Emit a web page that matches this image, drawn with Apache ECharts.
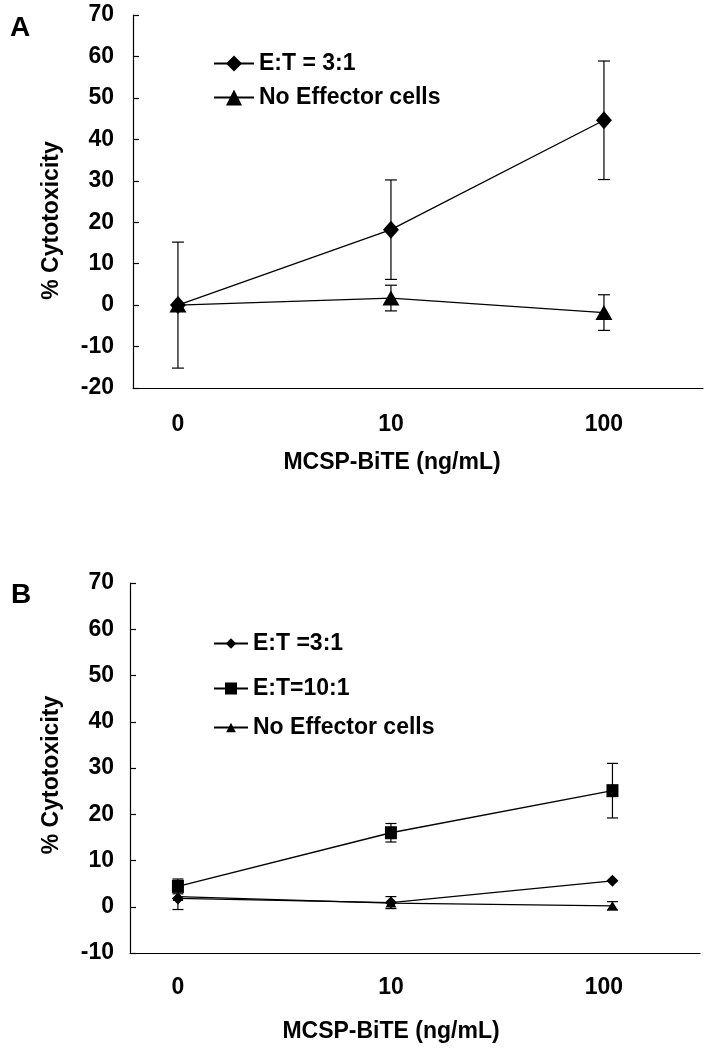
<!DOCTYPE html>
<html>
<head>
<meta charset="utf-8">
<script src="https://cdn.jsdelivr.net/npm/echarts@6/dist/echarts.min.js"></script>
<style>
    body { margin: 0; background: #fff; }
    #chart { width: 706px; height: 1050px; }
</style>
</head>
<body>
<div id="chart"></div>
<script>
// dose labels on x, and where the points sit along it
var doseLabels = ['0', '10', '100'];
var doseA = [0, 1, 2];
var doseB = [0, 1, 2.04];

// panel A
var namesA = ['E:T = 3:1', 'No Effector cells'];
var a31 = [0, 18.2, 44.6];
var a31Err = [15.2, 12.0, 14.3];
var aNone = [0, 1.7, -1.8];
var aNoneErr = [0, 3.1, 4.3];

// panel B
var namesB = ['E:T =3:1', 'E:T=10:1', 'No Effector cells'];
var b31 = [1.8, 0.9, 5.6];
var b31Err = [2.4, 1.3, 0];
var b101 = [4.4, 16.0, 25.1];
var b101Err = [1.6, 2.0, 5.9];
var bNone = [2.2, 0.8, 0.2];
var bNoneErr = [0, 0, 0.9];

var font = {fontFamily: 'Liberation Sans', fontWeight: 'bold', color: '#000', fontSize: 23, lineHeight: 23};

function pairs(xs, ys) {
    var out = [];
    for (var i = 0; i < ys.length; i++) out.push([xs[i], ys[i]]);
    return out;
}

function errRows(xs, ys, es) {
    var out = [];
    for (var i = 0; i < ys.length; i++) {
        if (es[i] > 0) out.push([xs[i], ys[i] - es[i], ys[i] + es[i]]);
    }
    return out;
}

function errorBar(cap) {
    return function (params, api) {
        var hi = api.coord([api.value(0), api.value(2)]);
        var lo = api.coord([api.value(0), api.value(1)]);
        var st = {stroke: '#000', lineWidth: 1.2};
        return {
            type: 'group',
            children: [
                {type: 'line', shape: {x1: hi[0], y1: hi[1], x2: lo[0], y2: lo[1]}, style: st},
                {type: 'line', shape: {x1: hi[0] - cap / 2, y1: hi[1], x2: hi[0] + cap / 2, y2: hi[1]}, style: st},
                {type: 'line', shape: {x1: lo[0] - cap / 2, y1: lo[1], x2: lo[0] + cap / 2, y2: lo[1]}, style: st}
            ]
        };
    };
}

function xAxisOf(grid, min, max, margin, gap, shift) {
    return {
        type: 'value', gridIndex: grid, min: min, max: max,
        name: 'MCSP-BiTE (ng/mL)', nameLocation: 'middle', nameGap: gap,
        nameTextStyle: Object.assign({}, font, {padding: [0, shift, 0, 0]}),
        axisLine: {onZero: false, lineStyle: {color: '#000', width: 1.2}},
        axisTick: {show: false},
        splitLine: {show: false},
        axisLabel: Object.assign({}, font, {
            margin: margin,
            customValues: [0, 1, 2],
            formatter: function (v) { return doseLabels[v]; }
        })
    };
}

function yAxisOf(grid, min, margin, gap, shift) {
    return {
        type: 'value', gridIndex: grid, min: min, max: 70, interval: 10,
        name: '% Cytotoxicity', nameLocation: 'middle', nameRotate: 90, nameGap: gap,
        nameTextStyle: Object.assign({}, font, {padding: [0, shift, 0, 0]}),
        axisLine: {onZero: false, lineStyle: {color: '#000', width: 1.2}},
        axisTick: {inside: true, length: 6, lineStyle: {color: '#000', width: 1.2}},
        splitLine: {show: false},
        axisLabel: Object.assign({}, font, {margin: margin})
    };
}

function lineOf(name, grid, xs, ys, symbol, size) {
    return {
        name: name, type: 'line', xAxisIndex: grid, yAxisIndex: grid,
        data: pairs(xs, ys), symbol: symbol, symbolSize: size,
        z: 3, silent: true,
        lineStyle: {color: '#000', width: 1.3},
        itemStyle: {color: '#000'}
    };
}

function errOf(grid, xs, ys, es, cap) {
    return {
        type: 'custom', xAxisIndex: grid, yAxisIndex: grid, z: 2, silent: true,
        data: errRows(xs, ys, es), encode: {x: 0, y: [1, 2]},
        renderItem: errorBar(cap)
    };
}

function legendOf(names, top, w, h, gap) {
    return {
        data: names, orient: 'vertical', left: 213, top: top, padding: 0,
        itemWidth: w, itemHeight: h, itemGap: gap, selectedMode: false,
        textStyle: font
    };
}

var myChart = echarts.init(document.getElementById('chart'));

var option = {
    animation: false,
    backgroundColor: '#fff',
    grid: [
        {left: 133, top: 15, width: 570, height: 373},
        {left: 130, top: 583, width: 570, height: 370}
    ],
    xAxis: [
        xAxisOf(0, -0.211, 2.465, 25, 63, 52),
        xAxisOf(1, -0.225, 2.451, 23, 67, 48)
    ],
    yAxis: [
        yAxisOf(0, -20, 19, 70, 38),
        yAxisOf(1, -10, 16, 67, 14)
    ],
    legend: [
        legendOf(namesA, 52, 40, 20, 11),
        legendOf([namesB[0]], 632, 34, 13, 0),
        legendOf([namesB[1]], 677, 34, 15, 0),
        legendOf([namesB[2]], 716, 34, 12, 0)
    ],
    graphic: [
        {type: 'text', left: 10, top: 14, style: {text: 'A', font: 'bold 28px "Liberation Sans"', fill: '#000'}},
        {type: 'text', left: 11, top: 581, style: {text: 'B', font: 'bold 28px "Liberation Sans"', fill: '#000'}}
    ],
    series: [
        errOf(0, doseA, a31, a31Err, 12),
        errOf(0, doseA, aNone, aNoneErr, 12),
        lineOf(namesA[0], 0, doseA, a31, 'diamond', [16, 18]),
        lineOf(namesA[1], 0, doseA, aNone, 'triangle', [17, 15]),
        errOf(1, doseB, b31, b31Err, 11),
        errOf(1, doseB, b101, b101Err, 11),
        errOf(1, doseB, bNone, bNoneErr, 11),
        lineOf(namesB[0], 1, doseB, b31, 'diamond', [12, 12]),
        lineOf(namesB[1], 1, doseB, b101, 'rect', [12, 13]),
        lineOf(namesB[2], 1, doseB, bNone, 'triangle', [11, 9])
    ]
};
myChart.setOption(option);
</script>
</body>
</html>
